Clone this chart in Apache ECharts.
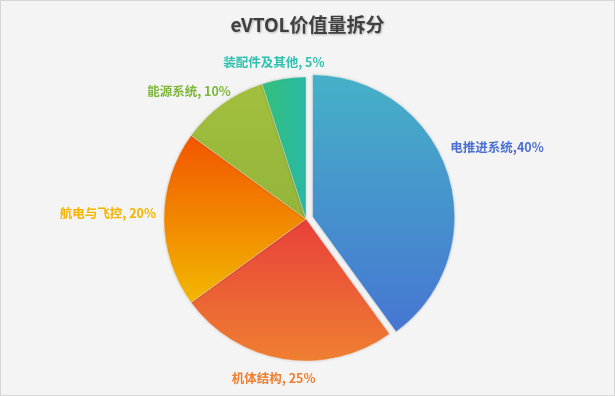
<!DOCTYPE html>
<html><head><meta charset="utf-8">
<script src="https://cdn.jsdelivr.net/npm/echarts@6/dist/echarts.min.js"></script>
<style>
html,body{margin:0;padding:0;background:#f3f3f3;}
#c{width:615px;height:396px;box-sizing:border-box;border:1px solid #d6d6d6;background:#f4f4f4;}
</style></head><body>
<div id="c"></div>
<script>
const categories = ['电推进系统', '机体结构', '航电与飞控', '能源系统', '装配件及其他'];
const values = [40, 25, 20, 10, 5];
const separators = [',', ', ', ', ', ', ', ', '];
const gradientStops = [
  ['#46b1c7', '#4676d2'],
  ['#e8403a', '#ef7f31'],
  ['#f25500', '#f2b800'],
  ['#a3bf3e', '#92b53a'],
  ['#34c07a', '#29b8a6']
];
const gradientDir = [[0,0,0,1],[0,0,0,1],[0,0,0,1],[0,0,0,1],[0,0,1,0]];
const labelColors = ['#4a6fd0', '#ef7f30', '#f4b400', '#7db53a', '#2fc0b0'];
const labelShift = [[-10, -23], [38, 11], [5, -6], [18, -6], [47, -9]];

const chart = echarts.init(document.getElementById('c'), null, {renderer: 'canvas'});
const data = categories.map((n, i) => ({
  name: n,
  value: values[i],
  selected: i === 0,
  itemStyle: {
    color: new echarts.graphic.LinearGradient(gradientDir[i][0], gradientDir[i][1], gradientDir[i][2], gradientDir[i][3], [
      {offset: 0, color: gradientStops[i][0]},
      {offset: 1, color: gradientStops[i][1]}
    ])
  },
  label: {color: labelColors[i]}
}));

chart.setOption({
  backgroundColor: 'transparent',
  animation: false,
  title: {
    text: 'eVTOL价值量拆分',
    left: 'center',
    top: 9,
    textStyle: {
      fontFamily: 'Noto Sans CJK SC, sans-serif',
      fontSize: 19,
      fontWeight: 'bold',
      color: '#404040',
      textShadowColor: 'rgba(0,0,0,0.25)',
      textShadowBlur: 2,
      textShadowOffsetX: 1,
      textShadowOffsetY: 1
    }
  },
  series: [{
    type: 'pie',
    center: [305, 218],
    radius: 142,
    startAngle: 90,
    clockwise: true,
    selectedMode: 'single',
    selectedOffset: 7,
    data: data,
    itemStyle: {
      borderColor: 'rgba(255,255,255,0.5)',
      borderWidth: 0.6,
      shadowBlur: 3,
      shadowColor: 'rgba(0,0,0,0.18)'
    },
    select: {itemStyle: {}},
    emphasis: {disabled: true},
    label: {
      show: true,
      position: 'outside',
      fontFamily: 'Noto Sans CJK SC, sans-serif',
      fontSize: 12.5,
      fontWeight: 'bold',
      formatter: p => p.name + separators[p.dataIndex] + p.value + '%'
    },
    labelLine: {show: false, length: 8, length2: 0},
    labelLayout: p => ({dx: labelShift[p.dataIndex][0], dy: labelShift[p.dataIndex][1]})
  }]
});
</script>
</body></html>
